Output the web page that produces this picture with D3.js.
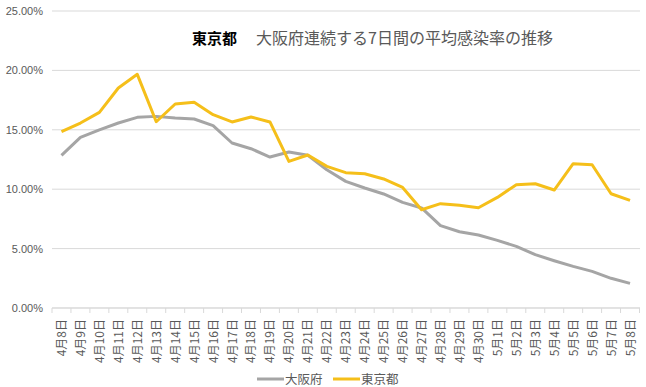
<!DOCTYPE html>
<html>
<head>
<meta charset="utf-8">
<script src="https://cdn.jsdelivr.net/npm/d3@7"></script>
<style>
  body { margin: 0; background: #fff; }
  text { font-family: "Noto Sans CJK JP", "Noto Sans", sans-serif; }
</style>
</head>
<body>
<div class="plot"></div>
<script>
// dates on the x axis
var dates = ["4月8日","4月9日","4月10日","4月11日","4月12日","4月13日","4月14日","4月15日",
  "4月16日","4月17日","4月18日","4月19日","4月20日","4月21日","4月22日","4月23日",
  "4月24日","4月25日","4月26日","4月27日","4月28日","4月29日","4月30日",
  "5月1日","5月2日","5月3日","5月4日","5月5日","5月6日","5月7日","5月8日"];

// 7-day average rate (%)
var osaka = [12.85,14.36,15.0,15.57,16.05,16.13,15.99,15.91,
  15.35,13.89,13.41,12.71,13.13,12.85,11.64,10.66,
  10.1,9.6,8.89,8.42,6.93,6.42,6.14,
  5.69,5.19,4.49,3.98,3.5,3.08,2.5,2.07];
var tokyo = [14.84,15.57,16.47,18.52,19.67,15.68,17.17,17.31,
  16.27,15.66,16.08,15.66,12.34,12.88,11.92,11.39,
  11.3,10.86,10.15,8.27,8.78,8.64,8.44,
  9.31,10.38,10.46,9.93,12.15,12.06,9.62,9.06];

var yTicks = [0, 5, 10, 15, 20, 25];
var seriesNames = ["大阪府", "東京都"];
var colors = ["#A5A5A5", "#F5BF1A"];

var W = 646, H = 387;
var margin = { top: 11, right: 6, bottom: 79, left: 52 };
var width = W - margin.left - margin.right,
  height = H - margin.top - margin.bottom;

var svg = d3.select(".plot")
  .append("svg")
  .attr("width", W)
  .attr("height", H);

var g = svg.append("g")
  .attr("transform", "translate(" + margin.left + "," + margin.top + ")");

// scales
var xScale = d3.scaleBand()
  .domain(dates)
  .range([0, 587.5]);

var yScale = d3.scaleLinear()
  .domain([0, 25])
  .range([height, 0]);

// gridlines
g.selectAll(".grid")
  .data(yTicks)
  .enter().append("line")
  .attr("x1", 0)
  .attr("x2", width)
  .attr("y1", function (d) { return yScale(d); })
  .attr("y2", function (d) { return yScale(d); })
  .style("stroke", "#D9D9D9")
  .style("stroke-width", 1);

// y axis labels
var yAxis = d3.axisLeft(yScale)
  .tickValues(yTicks)
  .tickSize(0)
  .tickPadding(9)
  .tickFormat(function (d) { return d.toFixed(2) + "%"; });

var yG = g.append("g").call(yAxis);
yG.select(".domain").remove();
yG.selectAll("text")
  .style("font-size", "11px")
  .style("fill", "#595959")
  .style("font-family", "'Liberation Sans', 'Noto Sans', sans-serif");

// x axis with tick marks at band edges
var xG = g.append("g")
  .attr("transform", "translate(0," + height + ")");

xG.append("line")
  .attr("x1", 0).attr("x2", width)
  .attr("y1", 0).attr("y2", 0)
  .style("stroke", "#D9D9D9");

var edges = dates.map(function (d) { return xScale(d); });
edges.push(xScale.range()[1]);
xG.selectAll(".tick-mark")
  .data(edges)
  .enter().append("line")
  .attr("x1", function (d) { return d; })
  .attr("x2", function (d) { return d; })
  .attr("y1", 0).attr("y2", 5)
  .style("stroke", "#D9D9D9");

xG.selectAll(".xlabel")
  .data(dates)
  .enter().append("text")
  .attr("transform", function (d) {
    return "translate(" + (xScale(d) + xScale.bandwidth() / 2 + 4.5) + ",11) rotate(-90)";
  })
  .style("text-anchor", "end")
  .style("font-size", "12px")
  .style("fill", "#595959")
  .text(function (d) { return d; });

// lines
var line = d3.line()
  .x(function (d, i) { return xScale(dates[i]) + xScale.bandwidth() / 2; })
  .y(function (d) { return yScale(d); });

[osaka, tokyo].forEach(function (values, k) {
  g.append("path")
    .datum(values)
    .attr("d", line)
    .style("fill", "none")
    .style("stroke", colors[k])
    .style("stroke-width", 3)
    .style("stroke-linejoin", "round");
});

// title
var title = svg.append("text")
  .attr("x", 192)
  .attr("y", 44);
title.append("tspan")
  .style("font-weight", "bold")
  .style("font-size", "15px")
  .style("fill", "#000")
  .text("東京都");
title.append("tspan")
  .style("fill", "#595959")
  .style("font-size", "16px")
  .attr("dx", 19)
  .text("大阪府連続する7日間の平均感染率の推移");

// legend
var legendX = [257, 333];
seriesNames.forEach(function (name, k) {
  svg.append("line")
    .attr("x1", legendX[k]).attr("x2", legendX[k] + 27)
    .attr("y1", 379).attr("y2", 379)
    .style("stroke", colors[k])
    .style("stroke-width", 3);
  svg.append("text")
    .attr("x", legendX[k] + 28)
    .attr("y", 384)
    .style("font-size", "12.5px")
    .style("fill", "#595959")
    .text(name);
});
</script>
</body>
</html>
